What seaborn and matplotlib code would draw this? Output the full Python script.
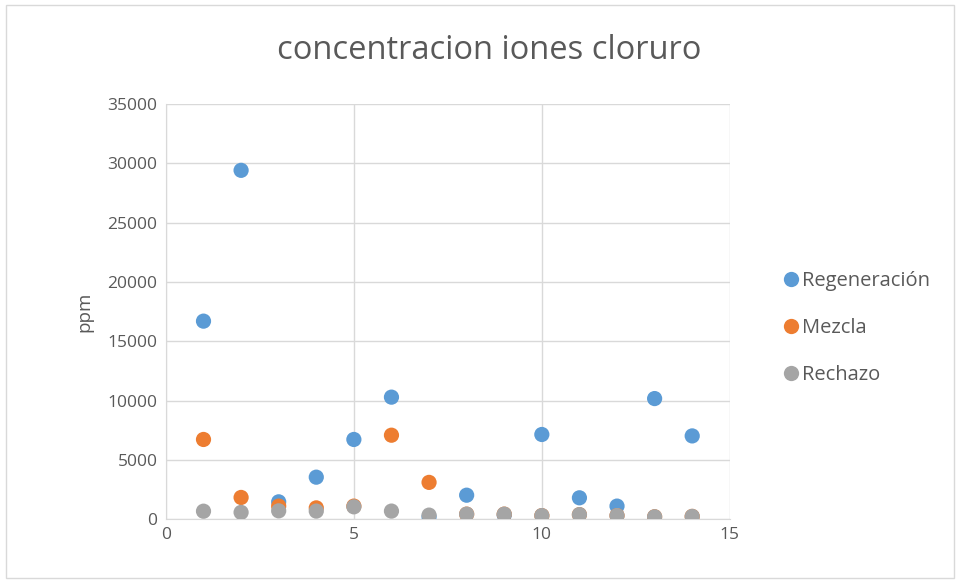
import pandas as pd
import seaborn as sns
import matplotlib.pyplot as plt
from matplotlib.patches import Rectangle

muestra = list(range(1, 15))
regeneracion = [16700, 29420, 1460, 3540, 6720, 10290, 200, 2020, 340, 7140, 1800, 1100, 10170, 7020]
mezcla = [6720, 1830, 1100, 950, 1100, 7080, 3100, 420, 420, 300, 380, 300, 200, 230]
rechazo = [670, 570, 700, 680, 1040, 680, 340, 420, 420, 300, 380, 300, 200, 230]
series = ["Regeneración", "Mezcla", "Rechazo"]
colors = ["#5B9BD5", "#ED7D31", "#A5A5A5"]

df = pd.concat([
    pd.DataFrame({"x": muestra, "ppm": regeneracion, "serie": series[0]}),
    pd.DataFrame({"x": muestra, "ppm": mezcla, "serie": series[1]}),
    pd.DataFrame({"x": muestra, "ppm": rechazo, "serie": series[2]}),
])

sns.set_style("white")
plt.rcParams["font.family"] = ["Open Sans", "DejaVu Sans"]

fig = plt.figure(figsize=(9.59, 5.82), dpi=100)
ax = fig.add_axes([0.173, 0.108, 0.588, 0.713])

sns.scatterplot(data=df, x="x", y="ppm", hue="serie", palette=colors,
                s=120, linewidth=0, ax=ax, legend=False, zorder=3)

ax.set_xlim(0, 15)
ax.set_ylim(0, 35000)
ax.set_xticks([0, 5, 10, 15])
ax.set_yticks(range(0, 35001, 5000))
ax.grid(True, color="#D9D9D9", linewidth=1)
for side in ["top", "right"]:
    ax.spines[side].set_visible(False)
for side in ["left", "bottom"]:
    ax.spines[side].set_color("#D9D9D9")
ax.tick_params(length=0, labelsize=12.5, colors="#595959", pad=6)
ax.set_xlabel("")
ax.set_ylabel("ppm", fontsize=13.5, color="#595959", labelpad=10)

fig.text(0.51, 0.913, "concentracion iones cloruro", ha="center", va="center",
         fontsize=23.5, color="#595959")

handles = [plt.Line2D([], [], marker="o", linestyle="", markersize=11,
                      markerfacecolor=c, markeredgewidth=0) for c in colors]
fig.legend(handles, series, loc="center left", bbox_to_anchor=(0.804, 0.436),
           frameon=False, fontsize=14.5, labelcolor="#595959",
           labelspacing=1.35, handlelength=1, handletextpad=0.05, borderpad=0)

fig.patches.append(Rectangle((0.006, 0.007), 0.989, 0.985, transform=fig.transFigure,
                             fill=False, edgecolor="#D9D9D9", linewidth=1))

plt.savefig("out.png", dpi=100)
